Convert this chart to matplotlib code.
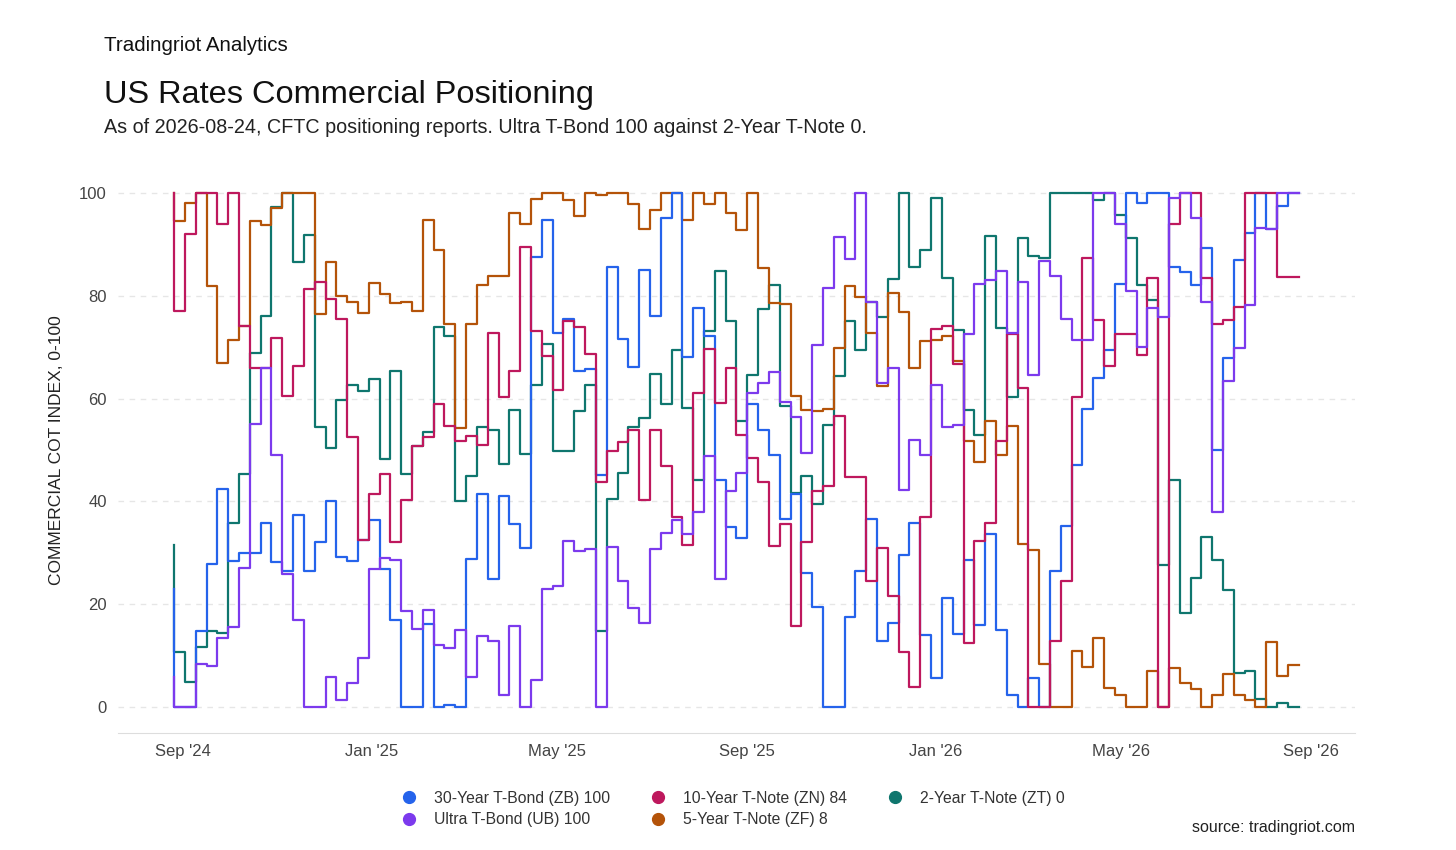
import numpy as np
import pandas as pd
import matplotlib
matplotlib.use('Agg')
import matplotlib.pyplot as plt
import matplotlib.dates as mdates
from matplotlib.lines import Line2D

plt.rcParams['font.family'] = ['Liberation Sans', 'DejaVu Sans']

# weekly report dates
dates = pd.date_range('2024-08-26', '2026-08-24', freq='7D')

zb = [23, 0, 0, 14.8, 27.9, 42.4, 28.5, 29.9, 29.9, 35.9, 28.2, 26.5, 37.3, 26.5, 32.2, 40, 29.2, 28.4,
      32.6, 36.3, 26.9, 17, 0, 0, 16.2, 0, 0.5, 0, 28.9, 41.5, 24.9, 41.1, 35.6, 30.9, 87.5,
      94.7, 72.8, 75.5, 65.4, 65.8, 45.1, 85.5, 71.6, 66.1, 85, 76.1, 95.1, 100, 68.1, 77.5, 72.1, 44.2, 35,
      32.9, 59, 53.8, 49.1, 36.6, 41.5, 26.1, 19.5, 0, 0, 17.5, 26.5, 36.6, 12.9, 16.3, 29.6, 35.9,
      14.1, 5.6, 21.2, 14.3, 28.6, 16, 33.6, 15.1, 2.4, 0, 5.6, 0, 26.5, 35.3, 47.1, 58, 63.9,
      69.4, 82.2, 100, 97.9, 100, 100, 85.5, 84.5, 82, 89.2, 50, 67.8, 86.9, 92.2, 100, 92.9, 97.4, 100]

ub = [5.8, 0, 0, 8.4, 8, 13.5, 15.6, 27, 55, 66, 49, 26, 17, 0, 0, 5.8, 1.4, 4.8,
      9.5, 26.9, 29, 28.6, 18.8, 15.3, 19, 12.1, 11.6, 15.1, 5.8, 13.8, 12.9, 2.4, 15.8, 0, 5.4,
      23, 23.5, 32.4, 30.4, 30.7, 0, 31.2, 24.5, 19.2, 16.3, 30.8, 33.9, 36.3, 33.7, 37.9, 48.9, 25, 42,
      45.6, 61, 63.1, 65.2, 59.4, 56.5, 49.5, 70.4, 81.5, 91.4, 87.1, 100, 78.8, 63.1, 65.9, 42.2, 52,
      49.1, 62.7, 54.4, 54.9, 72.6, 82.2, 83, 84.7, 72.8, 82.6, 64.5, 86.7, 83.8, 75.5, 71.4, 71.4, 100,
      100, 93.9, 80.8, 70.1, 77.5, 75.9, 98.9, 100, 95.1, 78.8, 37.9, 63.4, 69.8, 78.2, 93.2, 92.9, 100, 100]

zn = [100, 77, 92, 100, 100, 94, 100, 74, 66, 66, 71.8, 60.4, 66.4, 81.2, 82.6, 79.3, 75.5, 52.5,
      32.6, 41.5, 45.3, 32.2, 40.3, 50.7, 52.5, 59, 54.7, 51.7, 52.7, 51, 72.7, 60.3, 65.4, 89.5, 73.1,
      68.3, 61.6, 75.1, 73.9, 68.6, 43.8, 49.8, 51.5, 53.8, 40.3, 53.8, 46.8, 36.9, 31.6, 61, 69.6, 59.2, 65.9,
      52.9, 48.5, 43.8, 31.4, 35.6, 15.8, 32.2, 42, 43, 56.7, 44.8, 44.8, 24.5, 30.9, 21.6, 10.7, 4,
      36.9, 73.5, 74.1, 66.8, 12.5, 32.4, 35.9, 51.8, 72.5, 62.1, 0, 0, 12.8, 24.5, 60.3, 87.3, 75.3,
      66.4, 72.5, 72.5, 68.4, 83.5, 0, 94, 100, 100, 83.5, 74.5, 75.3, 77.8, 100, 100, 100, 83.7, 83.7]

zt = [31.6, 10.8, 4.9, 11.8, 14.8, 14.5, 35.9, 45.3, 68.8, 76, 97.2, 100, 86.5, 91.7, 54.4, 50.3, 59.7, 62.7,
      61.4, 63.7, 48.2, 65.4, 45.3, 50.7, 53.4, 73.9, 72.1, 40.1, 45, 54.5, 53.8, 47.3, 57.8, 49.2, 62.7,
      70.6, 49.8, 49.8, 57.6, 62.7, 14.8, 40.4, 45.5, 54.5, 56.2, 64.7, 59, 69.4, 58.2, 44.2, 73.1, 84.7, 75,
      55.7, 64.5, 77.3, 82, 58.5, 41.6, 45, 39.6, 54.9, 64.3, 75, 69.4, 78.8, 75.9, 83.2, 100, 85.5,
      88.9, 98.9, 83.5, 73.3, 57.8, 53, 91.6, 73.7, 60.3, 91.1, 87.7, 87.3, 100, 100, 100, 100, 98.5,
      100, 95.6, 91.1, 82, 79.2, 27.7, 44.2, 18.3, 25.2, 33, 28.6, 22.7, 6.6, 7.1, 1.7, 0, 0.9, 0]

zf = [100, 94.5, 98, 100, 81.8, 67, 71.4, 74, 94.5, 93.7, 97, 100, 100, 100, 76.5, 86.5, 80, 78.8,
      76.6, 82.4, 80.4, 78.6, 78.8, 77.1, 94.7, 88.9, 74.5, 54.2, 74.5, 82, 83.8, 83.8, 96.1, 93.9, 98.7,
      100, 100, 98.6, 95.4, 100, 99.6, 100, 100, 97.8, 92.9, 96.7, 100, 100, 94.7, 100, 97.8, 100, 96,
      92.7, 100, 85.3, 78.5, 78.4, 60.5, 57.8, 57.6, 58, 69.8, 81.8, 79.8, 72.8, 62.5, 80.6, 76.8, 65.9,
      71.1, 71.4, 72.1, 67.2, 51.8, 47.7, 55.7, 49, 54.7, 31.7, 30.6, 8.4, 0, 0, 10.9, 7.8, 13.5,
      3.8, 2.4, 0, 0, 7.1, 0, 7.6, 4.8, 3.6, 0, 2.4, 6.4, 2.4, 1.5, 0, 12.7, 6.1, 8.2]

labels = ['30-Year T-Bond (ZB) 100', 'Ultra T-Bond (UB) 100', '10-Year T-Note (ZN) 84',
          '5-Year T-Note (ZF) 8', '2-Year T-Note (ZT) 0']
series = [zb, ub, zn, zf, zt]
colors = ['#2563eb', '#7c3aed', '#be185d', '#b45309', '#0f766e']
# drawing order (back to front)
draw_order = [4, 3, 0, 2, 1]

fig = plt.figure(figsize=(14.56, 8.5), dpi=100)
ax = fig.add_axes([0.081, 0.1376, 0.8496, 0.666])

for i in draw_order:
    ax.plot(dates, series[i], color=colors[i], lw=1.6, drawstyle='steps-pre')

ax.set_ylim(-5, 105)
ax.set_yticks([0, 20, 40, 60, 80, 100])
ax.grid(axis='y', color='#e6e6e6', linestyle=(0, (4, 4)), lw=1)
ax.set_axisbelow(True)
ax.margins(x=0.05)

ax.xaxis.set_major_locator(mdates.MonthLocator(bymonth=[1, 5, 9]))
ax.xaxis.set_major_formatter(mdates.DateFormatter("%b '%y"))

for s in ['top', 'right', 'left']:
    ax.spines[s].set_visible(False)
ax.spines['bottom'].set_color('#dddddd')
ax.tick_params(axis='both', length=0, labelsize=12, colors='#444444', pad=8)
ax.tick_params(axis='x', pad=8)
ax.set_ylabel('COMMERCIAL COT INDEX, 0-100', fontsize=12.5, color='#222222', labelpad=11)

handles = [Line2D([], [], marker='o', ls='', color=c, markersize=8.5) for c in colors]
ax.legend(handles, labels, loc='upper center', bbox_to_anchor=(0.494, -0.077), ncol=3,
          frameon=False, fontsize=11.3, labelcolor='#333333', handletextpad=0.55,
          columnspacing=2.1, labelspacing=0.42)

fig.text(0.0715, 0.947, 'Tradingriot Analytics', fontsize=14.8, color='#111111', va='center')
fig.text(0.0715, 0.888, 'US Rates Commercial Positioning', fontsize=23.4, color='#111111', va='center')
fig.text(0.0715, 0.850, 'As of 2026-08-24, CFTC positioning reports. Ultra T-Bond 100 against 2-Year T-Note 0.',
         fontsize=14.2, color='#222222', va='center')
fig.text(0.9306, 0.027, 'source: tradingriot.com', fontsize=11.5, color='#222222', ha='right', va='center')

fig.savefig('out.png', dpi=100)
